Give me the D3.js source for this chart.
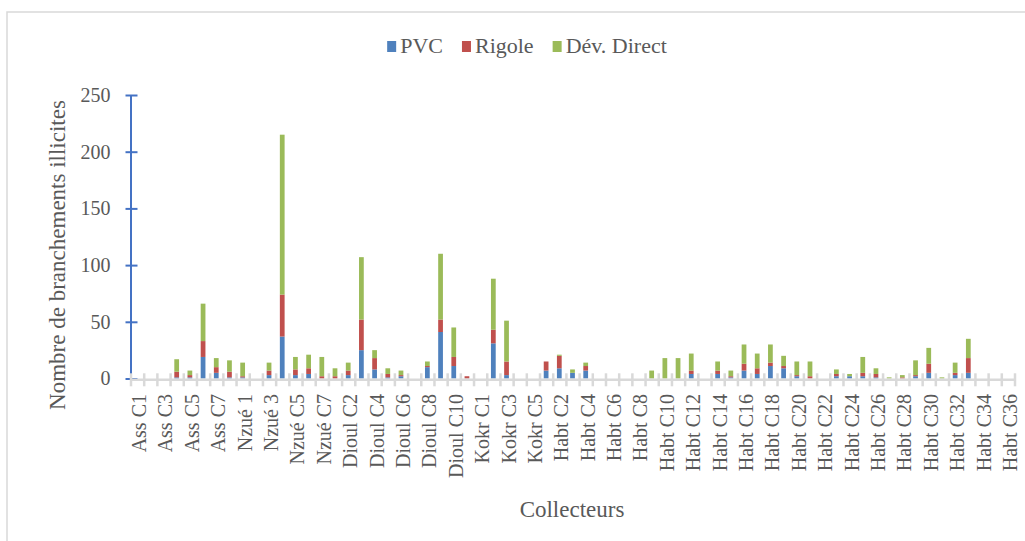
<!DOCTYPE html>
<html>
<head>
<meta charset="utf-8">
<script src="https://cdn.jsdelivr.net/npm/d3@7"></script>
<style>
  body { margin: 0; background: #fff; }
  svg text { font-family: "Liberation Serif", serif !important; fill: #595959; }
</style>
</head>
<body>
<div id="chart"></div>
<script>
const categories = [
  "Ass C1", "Ass C2", "Ass C3", "Ass C4", "Ass C5", "Ass C6", "Ass C7", "Ass C8",
  "Nzué 1", "Nzué 2", "Nzué 3", "Nzué 4", "Nzué C5", "Nzué C6", "Nzué C7",
  "Dioul C1", "Dioul C2", "Dioul C3", "Dioul C4", "Dioul C5", "Dioul C6", "Dioul C7",
  "Dioul C8", "Dioul C9", "Dioul C10", "Dioul C11",
  "Kokr C1", "Kokr C2", "Kokr C3", "Kokr C4", "Kokr C5",
  "Habt C1", "Habt C2", "Habt C3", "Habt C4", "Habt C5", "Habt C6", "Habt C7", "Habt C8",
  "Habt C9", "Habt C10", "Habt C11", "Habt C12", "Habt C13", "Habt C14", "Habt C15",
  "Habt C16", "Habt C17", "Habt C18", "Habt C19", "Habt C20", "Habt C21", "Habt C22",
  "Habt C23", "Habt C24", "Habt C25", "Habt C26", "Habt C27", "Habt C28", "Habt C29",
  "Habt C30", "Habt C31", "Habt C32", "Habt C33", "Habt C34", "Habt C35", "Habt C36"
];

// one value per collecteur, same order as categories
const pvc = [
  0, 0, 0, 1, 1, 19, 5, 1,
  1, 0, 3, 37, 3, 4, 0,
  0, 3, 25, 8, 1, 2, 0, 10, 41, 11, 0,
  0, 31, 3, 0, 0,
  7, 9, 5, 7, 0, 0, 0, 0, 0, 0, 0, 4, 0, 4, 1,
  7, 4, 11, 9, 2, 0, 0, 2, 2, 2, 1, 0, 0, 2,
  5, 0, 3, 5, 0, 0, 0
];
const rigole = [
  0, 0, 0, 5, 2, 14, 5, 5,
  1, 0, 4, 37, 5, 5, 2,
  2, 4, 27, 10, 3, 1, 0, 1, 11, 8, 2,
  0, 12, 12, 0, 0,
  8, 11, 0, 4, 0, 0, 0, 0, 0, 0, 0, 3, 0, 3, 1,
  6, 5, 3, 2, 1, 2, 0, 2, 0, 3, 3, 0, 1, 1,
  8, 0, 2, 13, 0, 0, 0
];
const devDirect = [
  0, 0, 0, 11, 4, 33, 8, 10,
  12, 0, 7, 141, 11, 12, 17,
  7, 7, 55, 7, 5, 4, 0, 4, 58, 26, 0,
  0, 45, 36, 0, 0,
  0, 1, 3, 3, 0, 0, 0, 0, 7, 18, 18, 15, 0, 8, 5,
  17, 13, 16, 9, 12, 13, 0, 4, 2, 14, 5, 1, 2, 13,
  14, 1, 9, 17, 0, 0, 0
];
const seriesNames = ["PVC", "Rigole", "Dév. Direct"];
const seriesColors = ["#4f81bd", "#c0504d", "#9bbb59"];
const yTicks = [0, 50, 100, 150, 200, 250];

const width = 1025, height = 541;
const plotLeft = 130.5, plotRight = 1014.5, plotTop = 95, plotBottom = 378.5;
const serif = "Liberation Serif, serif";

const svg = d3.select("#chart")
  .append("svg")
  .attr("width", width)
  .attr("height", height);

// chart frame
svg.append("rect")
  .attr("x", 7).attr("y", 12)
  .attr("width", 1040).attr("height", 560)
  .attr("fill", "#fff")
  .attr("stroke", "#d9d9d9")
  .attr("stroke-width", 1.5);

const rows = categories.map((c, i) => ({ name: c, "PVC": pvc[i], "Rigole": rigole[i], "Dév. Direct": devDirect[i] }));
const stacked = d3.stack().keys(seriesNames)(rows);

const xScale = d3.scaleBand()
  .domain(categories)
  .range([plotLeft, plotRight])
  .paddingInner(0.64)
  .paddingOuter(0.32);

const xEdges = d3.scaleLinear()
  .domain([0, categories.length])
  .range([plotLeft, plotRight]);

const yScale = d3.scaleLinear()
  .domain([0, 250])
  .range([plotBottom, plotTop]);

// bars
svg.append("g")
  .selectAll("g")
  .data(stacked)
  .enter()
  .append("g")
  .attr("fill", (d, i) => seriesColors[i])
  .selectAll("rect")
  .data(d => d)
  .enter()
  .append("rect")
  .attr("x", d => xScale(d.data.name))
  .attr("y", d => yScale(d[1]))
  .attr("width", xScale.bandwidth())
  .attr("height", d => yScale(d[0]) - yScale(d[1]));

// y axis
const yAxis = d3.axisLeft(yScale).tickValues(yTicks).tickSize(0).tickPadding(20);
const gy = svg.append("g")
  .attr("transform", `translate(${plotLeft},0)`)
  .attr("font-family", serif)
  .call(yAxis);
gy.select(".domain").attr("stroke", "#4472c4").attr("stroke-width", 2);
gy.selectAll(".tick line")
  .attr("x1", -5).attr("x2", 7)
  .attr("stroke", "#4472c4").attr("stroke-width", 2);
gy.selectAll(".tick text")
  .attr("font-size", 20)
  .attr("font-family", serif)
  .attr("fill", "#595959");

// x axis (ticks between categories)
const xAxis = d3.axisBottom(xEdges).tickValues(d3.range(categories.length + 1)).tickSize(0).tickFormat("");
const gx = svg.append("g")
  .attr("transform", `translate(0,${plotBottom + 0.8})`)
  .call(xAxis);
gx.select(".domain").attr("stroke", "#d9d9d9").attr("stroke-width", 2.5);
gx.selectAll(".tick line")
  .attr("y1", -6).attr("y2", 7)
  .attr("stroke", "#d9d9d9").attr("stroke-width", 2.5);

// category labels, every other one
svg.append("g")
  .selectAll("text")
  .data(categories.filter((c, i) => i % 2 == 0))
  .enter()
  .append("text")
  .attr("transform", d => `translate(${xScale(d) + xScale.bandwidth() / 2 + 2},394) rotate(-90)`)
  .attr("text-anchor", "end")
  .attr("dy", "0.35em")
  .attr("font-family", serif)
  .attr("font-size", 20)
  .text(d => d);

// axis titles
svg.append("text")
  .attr("transform", "translate(65,255) rotate(-90)")
  .attr("text-anchor", "middle")
  .attr("font-family", serif)
  .attr("font-size", 23)
  .text("Nombre de branchements illicites");

svg.append("text")
  .attr("x", 572).attr("y", 517)
  .attr("text-anchor", "middle")
  .attr("font-family", serif)
  .attr("font-size", 23)
  .text("Collecteurs");

// legend
const legend = svg.append("g");
let lx = 0;
seriesNames.forEach((name, i) => {
  legend.append("rect")
    .attr("x", lx).attr("y", 41)
    .attr("width", 9).attr("height", 11)
    .attr("fill", seriesColors[i]);
  const t = legend.append("text")
    .attr("x", lx + 13).attr("y", 53)
    .attr("font-family", serif)
    .attr("font-size", 22)
    .text(name);
  lx += 13 + t.node().getComputedTextLength() + 19;
});
const legendWidth = lx - 19;
legend.attr("transform", `translate(${527 - legendWidth / 2},0)`);
</script>
</body>
</html>
